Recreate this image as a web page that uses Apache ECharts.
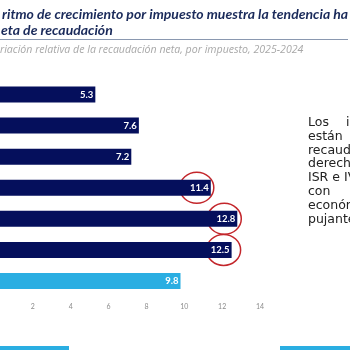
<!DOCTYPE html>
<html>
<head>
<meta charset="utf-8">
<script src="https://cdn.jsdelivr.net/npm/echarts@6/dist/echarts.min.js"></script>
<style>
  html, body { margin: 0; padding: 0; background: #fff; overflow: hidden; }
  /* el eje arranca fuera del recorte: el lienzo se desplaza 10px a la izquierda */
  #main { width: 360px; height: 350px; position: relative; left: -10px; }
</style>
</head>
<body>
<div id="main"></div>
<script>
// categorias (las etiquetas quedan fuera del recorte)
var categories = ['Otros', 'Comercio exterior', 'IEPS', 'Tributarios', 'ISR', 'IVA', 'Total']
// variacion relativa (%)
var values = [5.3, 7.6, 7.2, 11.4, 12.8, 12.5, 9.8]
// barras marcadas con circulo rojo
var circled = ['Tributarios', 'ISR', 'IVA']
var circleShift = [-14, -13, -8]

var titleLines = ['ritmo de crecimiento por impuesto muestra la tendencia ha', 'eta de recaudación']
var subtitle = 'riación relativa de la recaudación neta, por impuesto, 2025-2024'
var sideLines = ['están', 'recaudación', 'derechos', 'ISR e IVA', 'con', 'económico', 'pujante']

var off = 10 // desplazamiento del lienzo
var myChart = echarts.init(document.getElementById('main'))

var barData = values.map(function (v, i) {
    return {
        value: v,
        itemStyle: { color: categories[i] === 'Total' ? '#2aaee2' : '#050f5c' }
    }
})

var sideFont = '12.5px "DejaVu Sans"'
var graphics = [
    // titulo
    { type: 'text', left: off + 2, top: 7, style: { text: titleLines[0], font: 'italic bold 14px Lato', fill: '#1a2a5a' } },
    { type: 'text', left: off + 1, top: 23, style: { text: titleLines[1], font: 'italic bold 14px Lato', fill: '#1a2a5a' } },
    { type: 'rect', shape: { x: off, y: 39, width: 348, height: 1 }, style: { fill: '#8a98b0' } },
    { type: 'text', left: off, top: 44, style: { text: subtitle, font: 'italic 10.6px "Open Sans"', fill: '#a8a8a8' } },
    // texto lateral
    { type: 'text', left: off + 308, top: 116, style: { text: 'Los', font: sideFont, fill: '#222' } },
    { type: 'text', left: off + 346, top: 116, style: { text: 'impuestos', font: sideFont, fill: '#222' } },
    // franjas inferiores
    { type: 'rect', shape: { x: off, y: 346, width: 69, height: 4 }, style: { fill: '#2aaee2' } },
    { type: 'rect', shape: { x: off + 280, y: 346, width: 70, height: 4 }, style: { fill: '#2aaee2' } }
]
sideLines.forEach(function (t, i) {
    graphics.push({ type: 'text', left: off + 308, top: 130 + i * 13.8, style: { text: t, font: sideFont, fill: '#222' } })
})

option = {
    animation: false,
    grid: { left: 0.5, right: 90, top: 79, bottom: 53.5, containLabel: false },
    xAxis: {
        type: 'value',
        min: 0,
        max: 14,
        interval: 2,
        axisLine: { show: false },
        axisTick: { show: false },
        splitLine: { show: false },
        axisLabel: { fontSize: 7, color: '#8c8c8c', margin: 7, fontFamily: 'Lato' }
    },
    yAxis: {
        type: 'category',
        inverse: true,
        data: categories,
        axisLine: { show: false },
        axisTick: { show: false },
        axisLabel: { show: false }
    },
    series: [
        {
            type: 'bar',
            data: barData,
            barWidth: 16,
            label: {
                show: true,
                position: 'insideRight',
                distance: 2,
                color: '#fff',
                fontWeight: 'bold',
                fontSize: 9.5,
                fontFamily: 'Lato'
            }
        }
    ],
    graphic: graphics
}
myChart.setOption(option)

// circulos rojos alrededor de las etiquetas marcadas
var rings = []
circled.forEach(function (name, k) {
    var idx = categories.indexOf(name)
    var p = myChart.convertToPixel({ gridIndex: 0 }, [values[idx], name])
    rings.push({
        type: 'ellipse',
        shape: { cx: p[0] + circleShift[k], cy: p[1], rx: 17, ry: 15.5 },
        style: { fill: 'none', stroke: '#c3262b', lineWidth: 1.5 }
    })
})
myChart.setOption({ graphic: graphics.concat(rings) })
</script>
</body>
</html>
